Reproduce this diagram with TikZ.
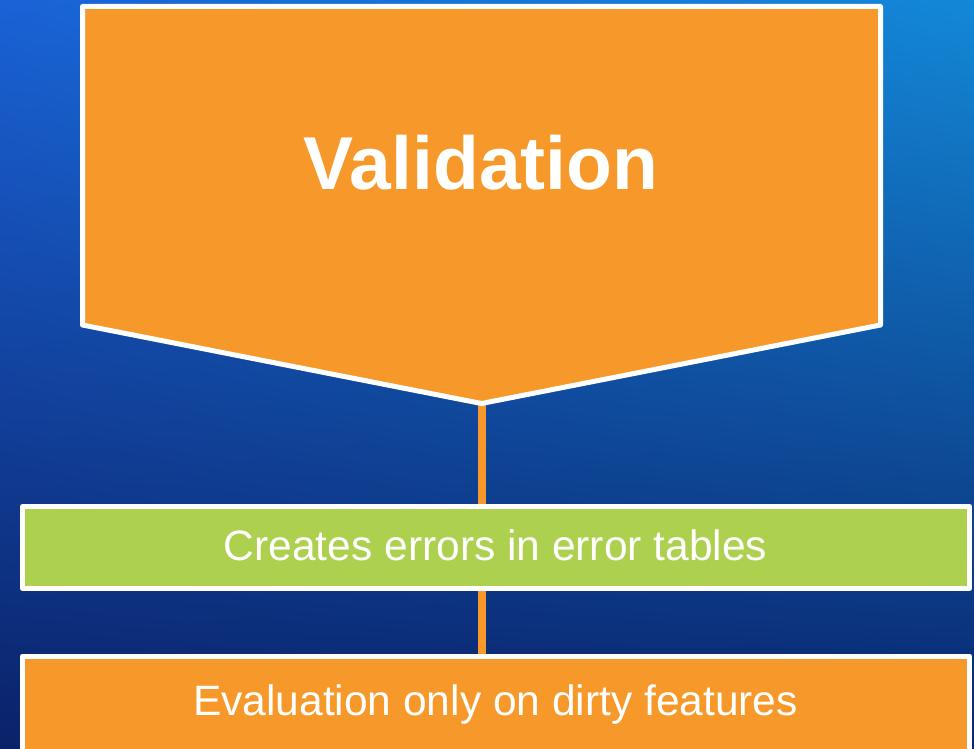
\documentclass[tikz,border=0pt]{standalone}
\usepackage{fontspec}
\setmainfont{Liberation Sans}
\usetikzlibrary{shadings}
\pgfdeclarelayer{background}
\pgfsetlayers{background,main}
\definecolor{bgtl}{HTML}{1A62D6}
\definecolor{bgtr}{HTML}{1388D6}
\definecolor{bgbl}{HTML}{0A2268}
\definecolor{bgbr}{HTML}{0A246E}
\definecolor{flowor}{HTML}{F7992A}
\definecolor{flowgr}{HTML}{ADD04F}
\tikzset{
  panel/.style={draw=white, line width=5pt, line join=round, rectangle,
    minimum width=947pt, inner sep=0pt},
  headtext/.style={text=white, font=\bfseries\fontsize{75}{82}\selectfont, anchor=base, inner sep=0pt},
  bodytext/.style={text=white, font=\fontsize{42.5}{48}\selectfont, anchor=base, inner sep=0pt},
  link/.style={draw=flowor, line width=8pt}
}
\begin{document}
\begin{tikzpicture}[x=1pt, y=-1pt]
\useasboundingbox (0,0) rectangle (974,749);
\begin{pgfonlayer}{background}
  \shade[upper left=bgtl, upper right=bgtr, lower left=bgbl, lower right=bgbr]
    (0,0) rectangle (974,749);
\end{pgfonlayer}

% header pentagon
\draw[fill=flowor, draw=white, line width=5pt, line join=round]
  (82.5,6.5) -- (880.5,6.5) -- (880.5,325) -- (481.5,403.5) -- (82.5,325) -- cycle;
\coordinate (apex) at (481.5,403.5);
\node[headtext] (valtxt) at (481,189) {Validation};

% step boxes
\node[panel, fill=flowgr, minimum height=82pt] (errbox) at (496,547.5) {};
\node[bodytext] (errtxt) at (495.5,560.5) {Creates errors in error tables};

\node[panel, fill=flowor, minimum height=120pt, anchor=north] (evalbox) at (496,653.5) {};
\node[bodytext] (evaltxt) at (495.5,715) {Evaluation only on dirty features};

% connectors behind the boxes
\begin{pgfonlayer}{background}
  \draw[link] (apex) -- (apex |- errbox.north);
  \draw[link] (apex |- errbox.south) -- (apex |- evalbox.north);
\end{pgfonlayer}
\end{tikzpicture}
\end{document}
